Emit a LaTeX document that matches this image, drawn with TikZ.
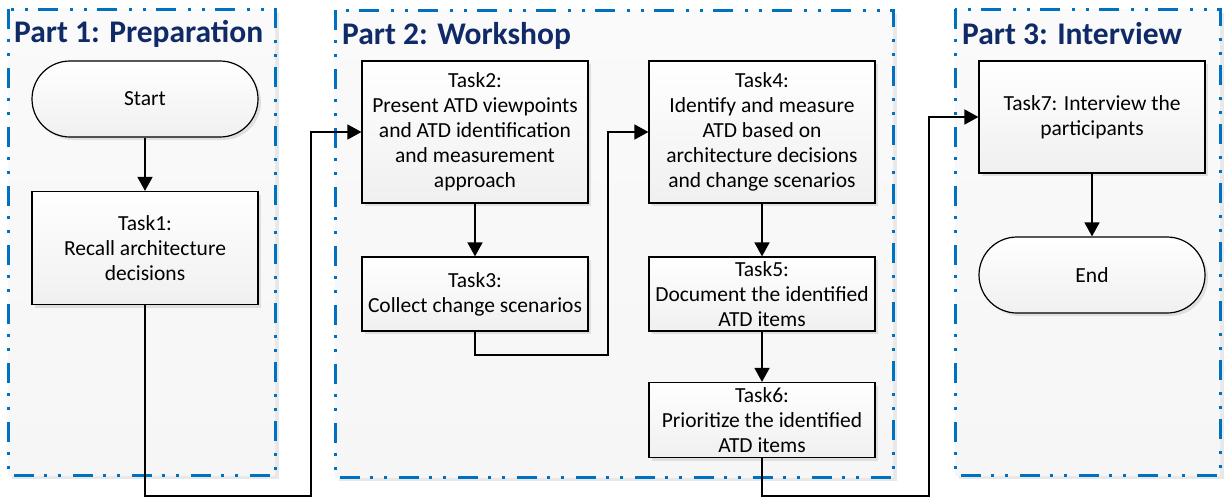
\documentclass[tikz,border=0pt]{standalone}
\usepackage{fontspec}
\setmainfont{Carlito}
\usepackage{tikz}
\usetikzlibrary{arrows.meta,shadows}
\definecolor{partblue}{RGB}{0,112,192}
\definecolor{partnavy}{RGB}{16,42,104}

\begin{document}
\begin{tikzpicture}[x=1pt,y=-1pt,
	part/.style={draw=partblue, line width=3pt,
		dash pattern=on 20pt off 10pt on 3pt off 11pt on 3pt off 12pt,
		top color=white!96!gray, bottom color=white!93!gray,
		drop shadow={opacity=0.18, shadow xshift=4pt, shadow yshift=-4pt}},
	parttitle/.style={anchor=west, text=partnavy, font=\fontsize{31.5}{36}\selectfont\bfseries, inner sep=0pt},
	task/.style={draw, line width=1.2pt, minimum width=226pt, align=center,
		top color=white, bottom color=white!88!gray,
		font=\fontsize{21.5}{25}\selectfont,
		drop shadow={opacity=0.2, shadow xshift=3pt, shadow yshift=-3pt}},
	term/.style={task, rounded corners=38pt, minimum height=76pt},
	flow/.style={line width=1.6pt, -{Triangle[length=14pt,width=15pt]}}]
	%\draw[help lines] (0,0) grid[step=50pt] (1225,498);
	\useasboundingbox (0,0) rectangle (1225,498);
	
	% the three parts
	\path[part] (8,9) rectangle (275,475);
	\path[part] (335,10) rectangle (893,477);
	\path[part] (955,9) rectangle (1220,475);
	\node[parttitle] (p1) at (14,34) {Part 1: Preparation};
	\node[parttitle] (p2) at (342,36) {Part 2: Workshop};
	\node[parttitle] (p3) at (962,34) {Part 3: Interview};
	
	\node[term] (start) at (145,99) {Start};
	\node[task, minimum height=113pt] (t1) at (145,248) {Task1:\\Recall architecture\\decisions};
	\node[task, minimum height=142pt] (t2) at (475,132) {Task2:\\Present ATD viewpoints\\and ATD identification\\and measurement\\approach};
	\node[task, minimum height=74pt] (t3) at (475,294) {Task3:\\Collect change scenarios};
	\node[task, minimum height=142pt] (t4) at (762,132) {Task4:\\Identify and measure\\ATD based on\\architecture decisions\\and change scenarios};
	\node[task, minimum height=74pt] (t5) at (762,294) {Task5:\\Document the identified\\ATD items};
	\node[task, minimum height=75pt] (t6) at (762,420) {Task6:\\Prioritize the identified\\ATD items};
	\node[task, minimum height=112pt] (t7) at (1092,117) {Task7: Interview the\\participants};
	\node[term] (end) at (1092,275) {End};
	
	\draw[flow] (start) -- (t1);
	\draw[flow] (t1.south) |- (311,496) |- (t2.west);
	\draw[flow] (t2) -- (t3);
	\draw[flow] (t3.south) |- (608,355) |- (t4.west);
	\draw[flow] (t4) -- (t5);
	\draw[flow] (t5) -- (t6);
	\draw[flow] (t6.south) |- (929,496) |- (t7.west);
	\draw[flow] (t7) -- (end);
\end{tikzpicture}
\end{document}
